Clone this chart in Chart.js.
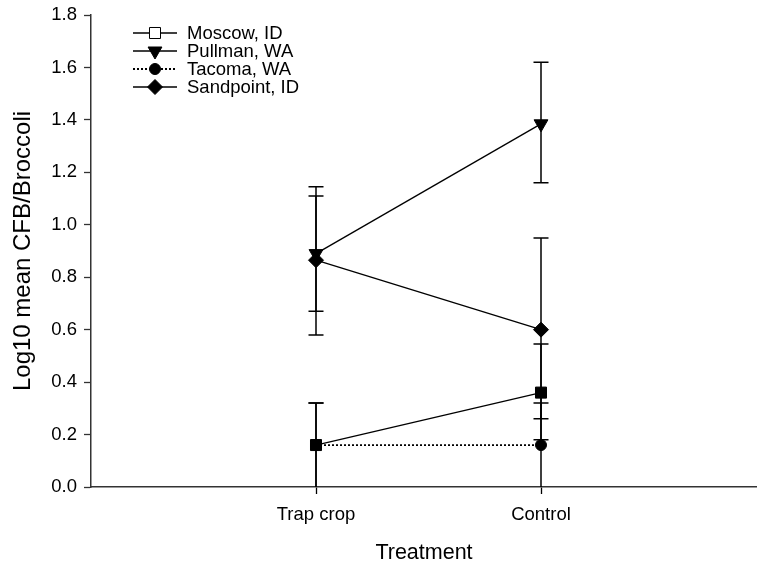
<!DOCTYPE html>
<html>
<head>
<meta charset="utf-8">
<script src="https://cdn.jsdelivr.net/npm/chart.js@4.4.1/dist/chart.umd.min.js"></script>
<style>
    html, body { margin: 0; padding: 0; background: #fff; overflow: hidden; }
    #wrap { width: 757px; height: 569px; }
    canvas { display: block; }
</style>
</head>
<body>
<div id="wrap"><canvas id="myChart" width="757" height="569"></canvas></div>
<script>
// treatments and where they sit on the x axis
const treatments = ['Trap crop', 'Control'];
const treatmentX = [1, 2];
const yTicks = [0, 0.2, 0.4, 0.6, 0.8, 1.0, 1.2, 1.4, 1.6, 1.8];

// log10 mean CFB per broccoli plant, with upper / lower error limits
const moscow = [0.16, 0.36];
const moscowHi = [0.32, 0.545];
const moscowLo = [0.0, 0.18];

const pullman = [0.89, 1.385];
const pullmanHi = [1.145, 1.62];
const pullmanLo = [0.67, 1.16];

const tacoma = [0.16, 0.16];
const tacomaHi = [0.32, 0.32];
const tacomaLo = [0.0, 0.0];

const sandpoint = [0.865, 0.60];
const sandpointHi = [1.11, 0.95];
const sandpointLo = [0.58, 0.26];

const FONT = "'Liberation Sans', Arial, sans-serif";
const INK = '#000';
const AXIS = '#333';

const toPoints = (vals) => vals.map((v, i) => ({ x: treatmentX[i], y: v }));

const series = [
    { label: 'Moscow, ID', data: moscow, hi: moscowHi, lo: moscowLo, style: 'rect', radius: 7.8, rot: 0, dash: [], width: 1.3, legendFill: '#fff' },
    { label: 'Pullman, WA', data: pullman, hi: pullmanHi, lo: pullmanLo, style: 'triangle', radius: 8, rot: 180, dash: [], width: 1.3, legendFill: INK },
    { label: 'Sandpoint, ID', data: sandpoint, hi: sandpointHi, lo: sandpointLo, style: 'rectRot', radius: 7.5, rot: 0, dash: [], width: 1.3, legendFill: INK },
    { label: 'Tacoma, WA', data: tacoma, hi: tacomaHi, lo: tacomaLo, style: 'circle', radius: 5.5, rot: 0, dash: [2, 2], width: 1.8, legendFill: INK }
];
const legendOrder = ['Moscow, ID', 'Pullman, WA', 'Tacoma, WA', 'Sandpoint, ID'];

const datasets = series.map(s => ({
    label: s.label,
    data: toPoints(s.data),
    hi: s.hi,
    lo: s.lo,
    legendFill: s.legendFill,
    borderColor: INK,
    borderWidth: s.width,
    borderDash: s.dash,
    backgroundColor: INK,
    pointStyle: s.style,
    pointRadius: s.radius,
    pointRotation: s.rot,
    pointBackgroundColor: INK,
    pointBorderColor: INK,
    pointBorderWidth: 1,
    clip: false,
    tension: 0
}));

// vertical error bars with caps, drawn under the lines
const errorBars = {
    id: 'errorBars',
    beforeDatasetsDraw(chart) {
        const { ctx, scales: { x, y } } = chart;
        ctx.save();
        ctx.strokeStyle = INK;
        ctx.lineWidth = 1.5;
        chart.data.datasets.forEach(ds => {
            ds.data.forEach((p, i) => {
                const px = x.getPixelForValue(p.x);
                const top = y.getPixelForValue(ds.hi[i]);
                const bot = y.getPixelForValue(ds.lo[i]);
                ctx.beginPath();
                ctx.moveTo(px, top);
                ctx.lineTo(px, bot);
                ctx.moveTo(px - 7.5, top);
                ctx.lineTo(px + 7.5, top);
                if (ds.lo[i] > 0) {
                    ctx.moveTo(px - 7.5, bot);
                    ctx.lineTo(px + 7.5, bot);
                }
                ctx.stroke();
            });
        });
        ctx.restore();
    }
};

// key in the upper left of the plot
const keyBox = {
    id: 'keyBox',
    afterDraw(chart) {
        const { ctx, chartArea } = chart;
        const x0 = chartArea.left + 42;
        const x1 = chartArea.left + 86;
        const y0 = chartArea.top + 18;
        const row = 18;
        ctx.save();
        legendOrder.forEach((name, k) => {
            const ds = chart.data.datasets.find(d => d.label === name);
            const yy = y0 + k * row;
            ctx.strokeStyle = INK;
            ctx.lineWidth = ds.borderWidth;
            ctx.setLineDash(ds.borderDash);
            ctx.beginPath();
            ctx.moveTo(x0, yy);
            ctx.lineTo(x1, yy);
            ctx.stroke();
            ctx.setLineDash([]);
            ctx.lineWidth = 1;
            ctx.fillStyle = ds.legendFill;
            Chart.helpers.drawPoint(ctx, {
                pointStyle: ds.pointStyle,
                radius: ds.pointRadius,
                rotation: ds.pointRotation,
                borderWidth: 1
            }, (x0 + x1) / 2, yy);
            ctx.fillStyle = INK;
            ctx.font = `18.5px ${FONT}`;
            ctx.textBaseline = 'middle';
            ctx.textAlign = 'left';
            ctx.fillText(name, x1 + 10, yy + 1);
        });
        ctx.restore();
    }
};

// the axes reserve no extra room for their end labels
const noEdgePadding = (scale) => {
    scale.paddingTop = 0;
    scale.paddingBottom = 0;
    scale.paddingLeft = 0;
    scale.paddingRight = 0;
};

function init() {
    const target = document.getElementById('myChart').getContext('2d');
    new Chart(target, {
        type: 'line',
        data: { datasets },
        options: {
            responsive: false,
            animation: false,
            events: [],
            layout: {
                autoPadding: false,
                padding: { top: 15, right: 0, left: 0, bottom: 0 }
            },
            plugins: {
                legend: { display: false },
                tooltip: { enabled: false }
            },
            scales: {
                x: {
                    type: 'linear',
                    min: 0,
                    max: 2.96,
                    afterBuildTicks: (scale) => {
                        scale.ticks = treatmentX.map(v => ({ value: v }));
                    },
                    afterFit: (scale) => {
                        scale.height = 82;
                        noEdgePadding(scale);
                    },
                    ticks: {
                        color: INK,
                        font: { family: FONT, size: 18.5 },
                        padding: 10,
                        maxRotation: 0,
                        callback: (v) => treatments[treatmentX.indexOf(v)]
                    },
                    grid: {
                        display: true,
                        drawOnChartArea: false,
                        drawTicks: true,
                        tickLength: 7,
                        tickWidth: 1.3,
                        tickColor: INK
                    },
                    border: { display: true, color: AXIS, width: 1.5 },
                    title: {
                        display: true,
                        text: 'Treatment',
                        color: INK,
                        font: { family: FONT, size: 21.5 },
                        padding: { top: 0, bottom: 3 }
                    }
                },
                y: {
                    type: 'linear',
                    min: 0,
                    max: 1.8,
                    afterBuildTicks: (scale) => {
                        scale.ticks = yTicks.map(v => ({ value: v }));
                    },
                    afterFit: (scale) => {
                        scale.width = 91;
                        noEdgePadding(scale);
                    },
                    ticks: {
                        color: INK,
                        font: { family: FONT, size: 18.5 },
                        padding: 7,
                        callback: (v) => v.toFixed(1)
                    },
                    grid: {
                        display: true,
                        drawOnChartArea: false,
                        drawTicks: true,
                        tickLength: 7,
                        tickWidth: 1.3,
                        tickColor: AXIS
                    },
                    border: { display: true, color: AXIS, width: 1.5 },
                    title: {
                        display: true,
                        text: 'Log10 mean CFB/Broccoli',
                        color: INK,
                        font: { family: FONT, size: 24 },
                        padding: { top: 9, bottom: 0 }
                    }
                }
            }
        },
        plugins: [errorBars, keyBox]
    });
}

init();
</script>
</body>
</html>
